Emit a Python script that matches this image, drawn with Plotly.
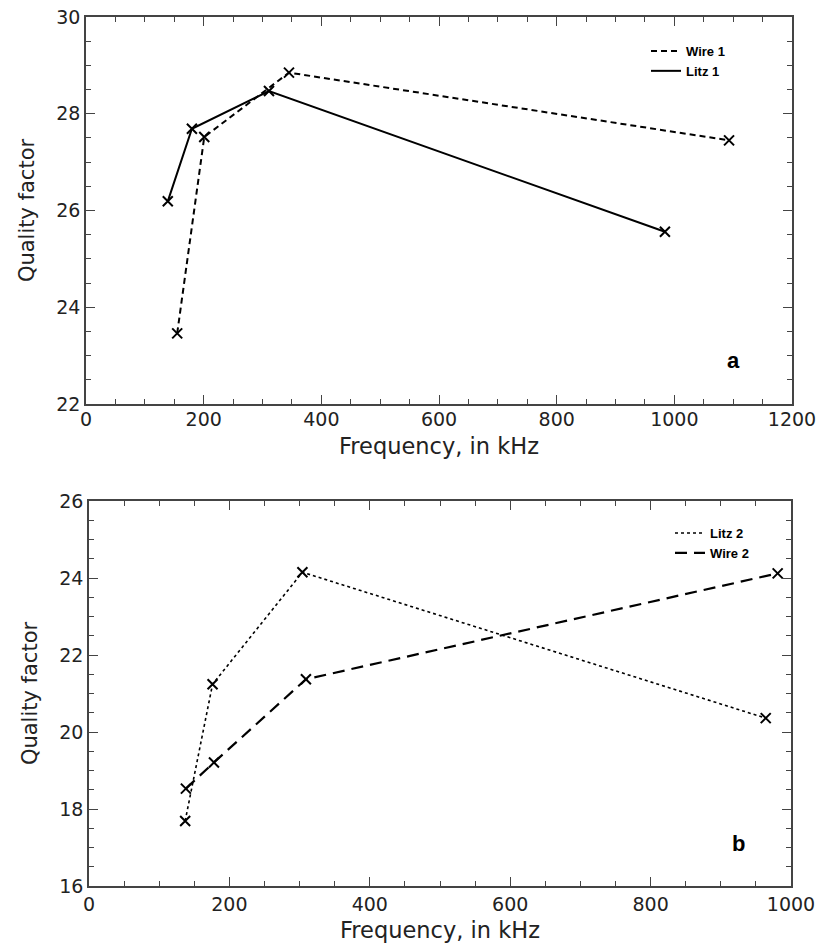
import plotly.graph_objects as go

# Panel a
wire1_f = [155, 201, 345, 1093]
wire1_q = [23.46, 27.52, 28.85, 27.45]
litz1_f = [139, 180, 311, 984]
litz1_q = [26.19, 27.69, 28.47, 25.56]

# Panel b
litz2_f = [137, 176, 304, 964]
litz2_q = [17.69, 21.24, 24.15, 20.36]
wire2_f = [138, 178, 309, 981]
wire2_q = [18.53, 19.21, 21.37, 24.12]

xtitle = "Frequency, in kHz"
ytitle = "Quality factor"

W, H = 817, 947


def fx(px):
    return px / W


def fy(py):
    return 1 - py / H


fig = go.Figure()

mk = dict(symbol="x-thin", size=10, line=dict(width=2, color="black"), color="black")
lblk = "black"


def add(f, q, name, dash, width, xa, ya, leg):
    fig.add_trace(go.Scatter(x=f, y=q, mode="lines+markers", name=name,
                             line=dict(color=lblk, dash=dash, width=width),
                             marker=mk, xaxis=xa, yaxis=ya, showlegend=False))
    fig.add_trace(go.Scatter(x=[None], y=[None], mode="lines", name=name,
                             line=dict(color=lblk, dash=dash, width=width),
                             xaxis=xa, yaxis=ya, legend=leg, showlegend=True))


add(wire1_f, wire1_q, "Wire 1", "6px,4px", 2, "x", "y", "legend")
add(litz1_f, litz1_q, "Litz 1", "solid", 2, "x", "y", "legend")
add(litz2_f, litz2_q, "Litz 2", "dot", 1.6, "x2", "y2", "legend2")
add(wire2_f, wire2_q, "Wire 2", "12px,7px", 2.2, "x2", "y2", "legend2")

tickfont = dict(family="DejaVu Sans", size=19, color="#222")
xtitlefont = dict(family="DejaVu Sans", size=22.5, color="#222")
ytitlefont = dict(family="DejaVu Sans", size=21, color="#222")


def axis_common(**kw):
    d = dict(showgrid=False, zeroline=False, showline=True, linecolor="#444", linewidth=1.5,
             mirror="allticks", ticks="inside", ticklen=9, tickwidth=1.3, tickcolor="#444",
             tickfont=tickfont, automargin=False, ticklabeloverflow="allow")
    d.update(kw)
    return d


minor_x = dict(dtick=50, ticklen=5, ticks="inside", tickcolor="#444", tickwidth=1.2)
minor_y = dict(dtick=0.5, ticklen=5, ticks="inside", tickcolor="#444", tickwidth=1.2)

fig.update_layout(
    width=W, height=H, margin=dict(l=0, r=0, t=0, b=0, autoexpand=False),
    paper_bgcolor="white", plot_bgcolor="white",
    xaxis=axis_common(domain=[fx(86), fx(792)], range=[0, 1200], dtick=200, anchor="y",
                      minor=minor_x, ticklabelstandoff=-3,
                      title=dict(text=xtitle, standoff=10, font=xtitlefont)),
    yaxis=axis_common(domain=[fy(404), fy(17)], range=[22, 30], dtick=2, anchor="x",
                      minor=minor_y, title=dict(text=ytitle, standoff=16, font=ytitlefont)),
    xaxis2=axis_common(domain=[fx(89), fx(791)], range=[0, 1000], dtick=200, anchor="y2",
                       minor=minor_x, ticklabelstandoff=0,
                       title=dict(text=xtitle, standoff=9, font=xtitlefont)),
    yaxis2=axis_common(domain=[fy(886), fy(501)], range=[16, 26], dtick=2, anchor="x2",
                       minor=minor_y, title=dict(text=ytitle, standoff=16, font=ytitlefont)),
    legend=dict(x=fx(646), y=fy(36), xanchor="left", yanchor="top",
                font=dict(family="Liberation Sans", size=13, color="black", weight="bold"),
                bgcolor="rgba(0,0,0,0)", tracegroupgap=0, itemwidth=30),
    legend2=dict(x=fx(670), y=fy(518), xanchor="left", yanchor="top",
                 font=dict(family="Liberation Sans", size=13, color="black", weight="bold"),
                 bgcolor="rgba(0,0,0,0)", tracegroupgap=0, itemwidth=30),
    annotations=[
        dict(text="<b>a</b>", x=1100, y=22.9, xref="x", yref="y", showarrow=False,
             font=dict(family="Liberation Sans", size=22, color="black")),
        dict(text="<b>b</b>", x=925, y=17.1, xref="x2", yref="y2", showarrow=False,
             font=dict(family="Liberation Sans", size=22, color="black")),
    ],
)

fig.write_html("out.html", config={"displayModeBar": False},
               post_script="document.body.style.margin='0';document.body.style.overflow='hidden';")
